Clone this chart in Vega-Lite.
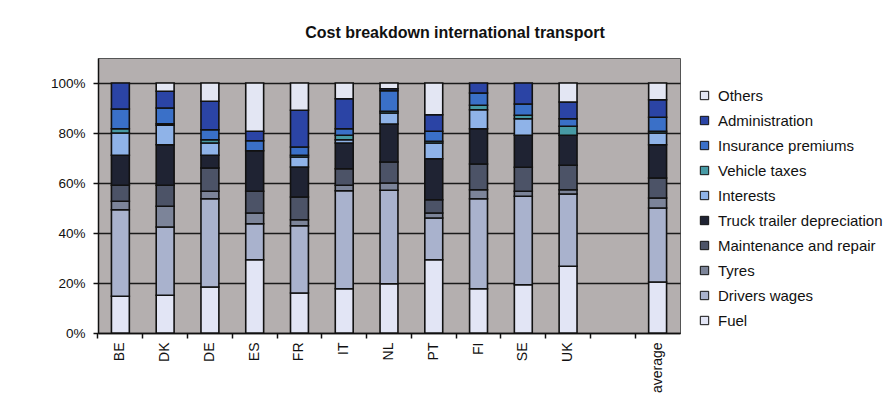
{
  "$schema": "https://vega.github.io/schema/vega-lite/v6.json",
  "autosize": {"type": "none"},
  "width": 582,
  "height": 275,
  "padding": {"left": 98, "top": 58, "right": 213, "bottom": 70},
  "background": "white",
  "title": {
    "text": "Cost breakdown international transport",
    "anchor": "middle",
    "dx": 66,
    "offset": 17,
    "font": "Liberation Sans",
    "fontSize": 16,
    "fontWeight": "bold",
    "color": "#111111"
  },
  "data": {
    "values": [
      {"country": "BE", "Fuel": 14.7, "Drivers wages": 34.6, "Tyres": 3.4, "Maintenance and repair": 6.4, "Truck trailer depreciation": 12.0, "Interests": 8.9, "Vehicle taxes": 1.7, "Insurance premiums": 7.9, "Administration": 10.4, "Others": 0},
      {"country": "DK", "Fuel": 15.1, "Drivers wages": 27.3, "Tyres": 8.3, "Maintenance and repair": 8.4, "Truck trailer depreciation": 16.2, "Interests": 7.8, "Vehicle taxes": 0.6, "Insurance premiums": 6.3, "Administration": 6.7, "Others": 3.3},
      {"country": "DE", "Fuel": 18.4, "Drivers wages": 35.3, "Tyres": 3.0, "Maintenance and repair": 9.3, "Truck trailer depreciation": 5.1, "Interests": 4.9, "Vehicle taxes": 1.3, "Insurance premiums": 4.0, "Administration": 11.4, "Others": 7.3},
      {"country": "ES", "Fuel": 29.3, "Drivers wages": 14.4, "Tyres": 4.3, "Maintenance and repair": 8.7, "Truck trailer depreciation": 16.2, "Interests": 0, "Vehicle taxes": 0, "Insurance premiums": 4.0, "Administration": 3.8, "Others": 19.3},
      {"country": "FR", "Fuel": 16.0, "Drivers wages": 26.9, "Tyres": 2.4, "Maintenance and repair": 9.1, "Truck trailer depreciation": 12.0, "Interests": 4.0, "Vehicle taxes": 0.7, "Insurance premiums": 3.3, "Administration": 14.7, "Others": 10.9},
      {"country": "IT", "Fuel": 17.7, "Drivers wages": 39.2, "Tyres": 2.2, "Maintenance and repair": 6.6, "Truck trailer depreciation": 10.3, "Interests": 1.3, "Vehicle taxes": 1.8, "Insurance premiums": 2.6, "Administration": 12.0, "Others": 6.3},
      {"country": "NL", "Fuel": 19.7, "Drivers wages": 37.4, "Tyres": 2.9, "Maintenance and repair": 8.4, "Truck trailer depreciation": 15.2, "Interests": 4.4, "Vehicle taxes": 0.7, "Insurance premiums": 8.2, "Administration": 0.8, "Others": 2.3},
      {"country": "PT", "Fuel": 29.3, "Drivers wages": 16.7, "Tyres": 2.0, "Maintenance and repair": 5.3, "Truck trailer depreciation": 16.4, "Interests": 6.3, "Vehicle taxes": 0.7, "Insurance premiums": 4.0, "Administration": 6.6, "Others": 12.7},
      {"country": "FI", "Fuel": 17.7, "Drivers wages": 36.0, "Tyres": 3.6, "Maintenance and repair": 10.3, "Truck trailer depreciation": 14.1, "Interests": 7.6, "Vehicle taxes": 1.8, "Insurance premiums": 4.9, "Administration": 4.0, "Others": 0},
      {"country": "SE", "Fuel": 19.3, "Drivers wages": 35.4, "Tyres": 2.0, "Maintenance and repair": 9.6, "Truck trailer depreciation": 12.8, "Interests": 6.6, "Vehicle taxes": 1.4, "Insurance premiums": 4.5, "Administration": 8.4, "Others": 0},
      {"country": "UK", "Fuel": 26.7, "Drivers wages": 28.9, "Tyres": 1.7, "Maintenance and repair": 9.8, "Truck trailer depreciation": 12.0, "Interests": 0, "Vehicle taxes": 3.6, "Insurance premiums": 3.0, "Administration": 6.7, "Others": 7.6},
      {"country": "average", "Fuel": 20.4, "Drivers wages": 29.6, "Tyres": 4.0, "Maintenance and repair": 8.0, "Truck trailer depreciation": 13.3, "Interests": 4.7, "Vehicle taxes": 0.7, "Insurance premiums": 5.6, "Administration": 7.0, "Others": 6.7}
    ]
  },
  "transform": [
    {"fold": ["Fuel", "Drivers wages", "Tyres", "Maintenance and repair", "Truck trailer depreciation", "Interests", "Vehicle taxes", "Insurance premiums", "Administration", "Others"], "as": ["cost", "share"]},
    {"filter": "datum.share > 0"},
    {"calculate": "indexof(['Fuel', 'Drivers wages', 'Tyres', 'Maintenance and repair', 'Truck trailer depreciation', 'Interests', 'Vehicle taxes', 'Insurance premiums', 'Administration', 'Others'], datum.cost)", "as": "stack_rank"}
  ],
  "mark": {"type": "bar", "stroke": "#111111", "strokeWidth": 1.6},
  "encoding": {
    "x": {
      "field": "country",
      "type": "nominal",
      "scale": {
        "domain": ["BE", "DK", "DE", "ES", "FR", "IT", "NL", "PT", "FI", "SE", "UK", " ", "average"],
        "paddingInner": 0.6,
        "paddingOuter": 0.3
      },
      "axis": {
        "title": null,
        "labelAngle": 270,
        "labelAlign": "right",
        "labelBaseline": "middle",
        "labelFont": "Liberation Sans",
        "labelFontSize": 14,
        "labelColor": "#111111",
        "labelPadding": 4,
        "tickColor": "#111111",
        "tickSize": 5,
        "tickWidth": 1.5,
        "bandPosition": -0.75,
        "domainColor": "#111111",
        "domainWidth": 1.5,
        "grid": false
      }
    },
    "y": {
      "field": "share",
      "type": "quantitative",
      "stack": "zero",
      "scale": {"domain": [0, 110], "nice": false},
      "axis": {
        "title": null,
        "values": [0, 20, 40, 60, 80, 100],
        "labelExpr": "datum.value + '%'",
        "labelFont": "Liberation Sans",
        "labelFontSize": 13.5,
        "labelColor": "#111111",
        "labelPadding": 8,
        "tickColor": "#111111",
        "tickSize": 5,
        "tickWidth": 1.5,
        "domainColor": "#111111",
        "domainWidth": 1.5,
        "grid": true,
        "gridColor": "#1a1a1a",
        "gridWidth": 1.5
      }
    },
    "color": {
      "field": "cost",
      "type": "nominal",
      "scale": {
        "domain": ["Others", "Administration", "Insurance premiums", "Vehicle taxes", "Interests", "Truck trailer depreciation", "Maintenance and repair", "Tyres", "Drivers wages", "Fuel"],
        "range": ["#e3e6f3", "#2b44a5", "#3a70c8", "#479aa5", "#8fb3e8", "#1f2333", "#4c5367", "#7c8499", "#a9b2cd", "#e2e5f5"]
      },
      "legend": {
        "orient": "none",
        "legendX": 599,
        "legendY": 30,
        "title": null,
        "symbolType": "square",
        "symbolSize": 70,
        "symbolStrokeColor": "#111111",
        "symbolStrokeWidth": 1,
        "symbolOpacity": 1,
        "labelFont": "Liberation Sans",
        "labelFontSize": 15,
        "labelColor": "#111111",
        "labelOffset": 6,
        "labelLimit": 0,
        "rowPadding": 9
      }
    },
    "order": {"field": "stack_rank", "type": "quantitative"}
  },
  "config": {
    "view": {"fill": "#b4afaf", "stroke": "#555555", "strokeWidth": 1}
  }
}
